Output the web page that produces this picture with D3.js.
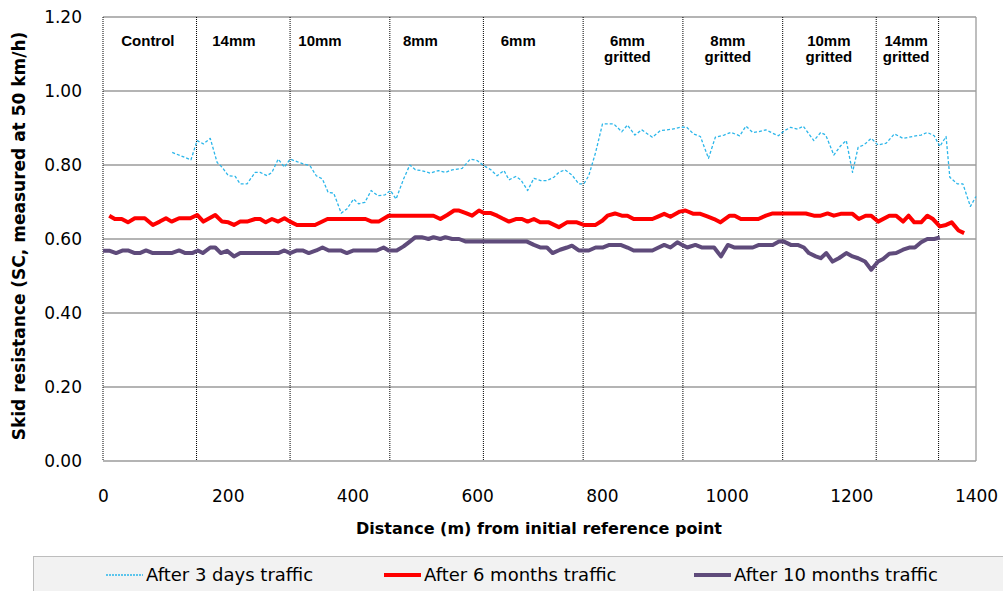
<!DOCTYPE html>
<html>
<head>
<meta charset="utf-8">
<script src="https://cdn.jsdelivr.net/npm/d3@7"></script>
<style>
  body { margin: 0; background: #fff; }
  svg { display: block; }
</style>
</head>
<body>
<div id="chart"></div>
<script>
// ---------------- data ----------------
var yTicks = [0, 0.2, 0.4, 0.6, 0.8, 1.0, 1.2];
var xTicks = [0, 200, 400, 600, 800, 1000, 1200, 1400];

// section boundaries (m) and the section names
var zoneEdges = [0, 150, 300, 460, 610, 770, 930, 1090, 1240, 1340];
var zoneNames = [["Control"], ["14mm"], ["10mm"], ["8mm"], ["6mm"],
  ["6mm", "gritted"], ["8mm", "gritted"], ["10mm", "gritted"], ["14mm", "gritted"]];
var zoneLabelAt = [72, 210, 348, 509, 666, 841, 1002, 1164, 1288];

var seriesNames = ["After 3 days traffic", "After 6 months traffic", "After 10 months traffic"];

var threeDays = [[111,0.834],[141,0.814],[151,0.866],[161,0.857],[172,0.872],[183,0.807],[191,0.794],[201,0.771],[212,0.769],[220,0.749],[231,0.749],[244,0.780],[252,0.780],[263,0.771],[271,0.780],[281,0.816],[291,0.794],[300,0.816],[311,0.809],[321,0.803],[332,0.798],[342,0.771],[352,0.762],[361,0.726],[370,0.724],[382,0.670],[391,0.681],[402,0.708],[410,0.695],[420,0.699],[430,0.731],[441,0.717],[452,0.719],[461,0.731],[470,0.708],[482,0.762],[492,0.800],[501,0.787],[511,0.785],[525,0.778],[538,0.785],[549,0.780],[560,0.787],[576,0.791],[589,0.816],[600,0.812],[611,0.798],[622,0.787],[632,0.771],[643,0.785],[651,0.760],[662,0.769],[670,0.760],[681,0.731],[691,0.764],[702,0.758],[712,0.758],[723,0.767],[731,0.780],[741,0.787],[752,0.773],[763,0.749],[771,0.749],[779,0.771],[790,0.834],[801,0.911],[819,0.911],[832,0.890],[841,0.908],[853,0.881],[864,0.895],[881,0.875],[894,0.893],[913,0.897],[926,0.902],[936,0.902],[947,0.884],[958,0.877],[971,0.818],[982,0.875],[996,0.881],[1007,0.888],[1021,0.879],[1031,0.905],[1042,0.888],[1052,0.890],[1063,0.895],[1074,0.886],[1083,0.879],[1093,0.893],[1103,0.902],[1114,0.897],[1123,0.905],[1132,0.884],[1140,0.866],[1151,0.888],[1159,0.881],[1172,0.827],[1183,0.852],[1192,0.866],[1202,0.780],[1211,0.848],[1220,0.854],[1232,0.872],[1243,0.854],[1256,0.859],[1269,0.884],[1283,0.872],[1298,0.877],[1312,0.881],[1322,0.888],[1333,0.879],[1342,0.850],[1352,0.877],[1358,0.767],[1370,0.749],[1379,0.749],[1391,0.688],[1400,0.715]];

var sixMonths = [[10,0.663],[19,0.654],[30,0.654],[40,0.645],[51,0.656],[67,0.656],[80,0.638],[91,0.647],[101,0.656],[110,0.647],[122,0.656],[140,0.656],[151,0.665],[161,0.647],[180,0.665],[191,0.647],[201,0.645],[210,0.638],[220,0.647],[231,0.647],[244,0.654],[252,0.654],[261,0.645],[271,0.654],[281,0.647],[291,0.656],[300,0.647],[311,0.638],[340,0.638],[360,0.654],[421,0.654],[431,0.647],[442,0.647],[458,0.663],[530,0.663],[541,0.654],[552,0.665],[563,0.677],[571,0.677],[582,0.670],[592,0.663],[603,0.677],[611,0.670],[622,0.670],[632,0.663],[640,0.656],[651,0.647],[662,0.654],[672,0.654],[681,0.647],[691,0.654],[701,0.645],[715,0.645],[731,0.632],[744,0.645],[760,0.645],[771,0.638],[790,0.638],[801,0.650],[809,0.663],[821,0.669],[832,0.663],[841,0.663],[851,0.654],[881,0.654],[889,0.660],[900,0.668],[910,0.660],[925,0.674],[934,0.677],[947,0.668],[958,0.668],[969,0.661],[980,0.654],[990,0.645],[1005,0.663],[1013,0.663],[1023,0.654],[1051,0.654],[1063,0.663],[1074,0.669],[1127,0.669],[1140,0.663],[1151,0.663],[1162,0.669],[1172,0.663],[1183,0.668],[1202,0.668],[1212,0.654],[1223,0.663],[1232,0.663],[1243,0.647],[1261,0.663],[1272,0.663],[1283,0.647],[1292,0.663],[1301,0.645],[1312,0.645],[1322,0.663],[1331,0.654],[1342,0.634],[1352,0.638],[1361,0.645],[1372,0.623],[1381,0.616]];

var tenMonths = [[0,0.568],[11,0.568],[21,0.562],[32,0.569],[40,0.569],[51,0.562],[59,0.562],[69,0.569],[80,0.562],[110,0.562],[122,0.569],[132,0.562],[143,0.562],[152,0.569],[160,0.562],[172,0.577],[180,0.577],[189,0.562],[199,0.568],[210,0.553],[220,0.562],[281,0.562],[291,0.569],[300,0.562],[311,0.569],[320,0.569],[330,0.562],[342,0.569],[352,0.577],[362,0.569],[381,0.569],[391,0.562],[402,0.569],[439,0.569],[450,0.577],[458,0.569],[471,0.569],[482,0.580],[492,0.593],[501,0.605],[511,0.605],[522,0.600],[530,0.605],[541,0.600],[549,0.605],[560,0.600],[571,0.600],[582,0.593],[680,0.593],[691,0.584],[702,0.577],[712,0.577],[721,0.562],[733,0.571],[744,0.577],[752,0.582],[763,0.569],[779,0.569],[790,0.577],[801,0.577],[812,0.584],[830,0.584],[841,0.577],[851,0.569],[881,0.569],[891,0.577],[900,0.584],[910,0.577],[921,0.591],[931,0.582],[937,0.577],[950,0.584],[961,0.577],[980,0.577],[991,0.553],[1002,0.584],[1013,0.577],[1042,0.577],[1052,0.584],[1074,0.584],[1084,0.593],[1092,0.593],[1103,0.584],[1114,0.584],[1124,0.577],[1132,0.562],[1143,0.553],[1151,0.548],[1160,0.562],[1170,0.539],[1180,0.548],[1192,0.562],[1202,0.553],[1211,0.548],[1222,0.539],[1232,0.517],[1243,0.539],[1251,0.546],[1261,0.560],[1272,0.562],[1283,0.571],[1293,0.577],[1302,0.577],[1312,0.591],[1322,0.600],[1333,0.600],[1342,0.604]];

//**********************Canvas**********************
var W = 1003, H = 591;
var margin = { top: 17, right: 27, bottom: 130, left: 103 },
    width = W - margin.left - margin.right,
    height = H - margin.top - margin.bottom;

var svg = d3.select("#chart").append("svg")
    .attr("width", W)
    .attr("height", H);

var g = svg.append("g")
    .attr("transform", "translate(" + margin.left + "," + margin.top + ")");

var x = d3.scaleLinear().domain([0, 1400]).range([0, width]);
var y = d3.scaleLinear().domain([0, 1.2]).range([height, 0]);

var tickFont = "'DejaVu Sans', sans-serif";

// 横向网格线
g.append("g")
    .selectAll("line")
    .data(yTicks)
    .enter()
    .append("line")
    .attr("x1", 0)
    .attr("x2", width)
    .attr("y1", d => y(d))
    .attr("y2", d => y(d))
    .attr("stroke", "#9b9b9b")
    .attr("stroke-width", 1.3);

// right border
g.append("line")
    .attr("x1", width).attr("x2", width)
    .attr("y1", 0).attr("y2", height)
    .attr("stroke", "#9b9b9b")
    .attr("stroke-width", 1.3);

// section dividers (dotted), incl. the left edge
g.append("g")
    .selectAll("line")
    .data(zoneEdges)
    .enter()
    .append("line")
    .attr("x1", d => x(d))
    .attr("x2", d => x(d))
    .attr("y1", 0)
    .attr("y2", height)
    .attr("stroke", "#000")
    .attr("stroke-width", 1)
    .attr("stroke-dasharray", "1,1");

// section names
var zl = g.append("g")
    .selectAll("text")
    .data(zoneNames)
    .enter()
    .append("text")
    .attr("x", (d, i) => x(zoneLabelAt[i]))
    .attr("y", 29)
    .attr("text-anchor", "middle")
    .style("font-family", "'Liberation Sans', Arial, sans-serif")
    .style("font-weight", "bold")
    .style("font-size", "15px");

zl.selectAll("tspan")
    .data(d => d)
    .enter()
    .append("tspan")
    .attr("x", function () { return d3.select(this.parentNode).attr("x"); })
    .attr("dy", (d, i) => i == 0 ? 0 : 16)
    .text(d => d);

//**********************Axes**********************
var yAxis = g.append("g")
    .call(d3.axisLeft(y).tickValues(yTicks).tickSize(0).tickPadding(21).tickFormat(d3.format(".2f")));
yAxis.select(".domain").remove();
yAxis.selectAll("text")
    .style("font-family", tickFont)
    .style("font-size", "17px")
    .attr("fill", "#000");

var xAxis = g.append("g")
    .attr("transform", "translate(0," + height + ")")
    .call(d3.axisBottom(x).tickValues(xTicks).tickSize(0).tickPadding(29).tickFormat(d3.format("d")));
xAxis.select(".domain").remove();
xAxis.selectAll("text")
    .style("font-family", tickFont)
    .style("font-size", "17px")
    .attr("fill", "#000");

svg.append("text")
    .attr("transform", "translate(25," + (margin.top + height / 2 - 3) + ") rotate(-90)")
    .attr("text-anchor", "middle")
    .style("font-family", tickFont)
    .style("font-weight", "bold")
    .style("font-size", "17px")
    .text("Skid resistance (SC, measured at 50 km/h)");

svg.append("text")
    .attr("x", 539)
    .attr("y", 534)
    .attr("text-anchor", "middle")
    .style("font-family", tickFont)
    .style("font-weight", "bold")
    .style("font-size", "16px")
    .text("Distance (m) from initial reference point");

//**********************Lines**********************
var line = d3.line()
    .x(d => x(d[0]))
    .y(d => y(d[1]));

var styles = [
    { color: "#2bb6ea", width: 1.3, dash: "3,2" },
    { color: "#ff0000", width: 4, dash: null },
    { color: "#5f4b7b", width: 4, dash: null }
];

[threeDays, sixMonths, tenMonths].forEach(function (s, i) {
    g.append("path")
        .datum(s)
        .attr("d", line)
        .attr("fill", "none")
        .attr("stroke", styles[i].color)
        .attr("stroke-width", styles[i].width)
        .attr("stroke-dasharray", styles[i].dash)
        .attr("stroke-linejoin", "round");
});

//**********************Legend**********************
var legend = svg.append("g");
legend.append("rect")
    .attr("x", 33.5)
    .attr("y", 556.5)
    .attr("width", 980)
    .attr("height", 50)
    .attr("fill", "#f2f2f2")
    .attr("stroke", "#bdbdbd");

var legendX = [106, 384, 694];
var items = legend.selectAll(".item")
    .data(seriesNames)
    .enter()
    .append("g")
    .attr("class", "item")
    .attr("transform", (d, i) => "translate(" + legendX[i] + ",575)");

items.append("line")
    .attr("x1", 0).attr("x2", 37)
    .attr("y1", 0).attr("y2", 0)
    .attr("stroke", (d, i) => styles[i].color)
    .attr("stroke-width", (d, i) => i == 0 ? 1.3 : 4)
    .attr("stroke-dasharray", (d, i) => i == 0 ? "2,1" : null);

items.append("text")
    .attr("x", 40)
    .attr("y", 6)
    .style("font-family", tickFont)
    .style("font-size", "18px")
    .text(d => d);
</script>
</body>
</html>
